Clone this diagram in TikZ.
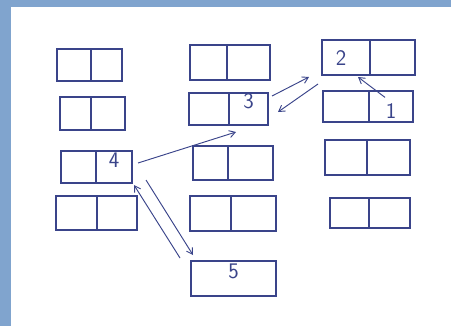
\documentclass[tikz,border=0pt]{standalone}
\usetikzlibrary{positioning,fit,arrows.meta}
\definecolor{ink}{RGB}{58,68,138}
\definecolor{frame}{RGB}{128,164,206}
\begin{document}
\begin{tikzpicture}[x=0.3mm,y=-0.3mm,
  cell/.style={draw=ink,line width=0.9pt,inner sep=0pt,outer sep=0pt,
    font=\sffamily\fontsize{19}{19}\selectfont,text=ink},
  digit/.style={text=ink,font=\sffamily\fontsize{19}{19}\selectfont},
  conn/.style={draw=ink,line width=0.8pt,-{Straight Barb[length=5pt,width=6pt]}}]
\useasboundingbox (0,0) rectangle (451,326);
\fill[frame] (0,0) rectangle (451,326);
\fill[white] (11,7) rectangle (451,326);
% column 1
\node[cell,fit={(57,49)(91,81)}] (a1l) {};
\node[cell,fit={(91,49)(122,81)}] (a1r) {};
\node[cell,fit={(60,97)(91,130)}] (a2l) {};
\node[cell,fit={(91,97)(125,130)}] (a2r) {};
\node[cell,fit={(61,151)(96,183)}] (a3l) {};
\node[cell,fit={(96,151)(132,183)}] (a3r) {4};
\node[cell,fit={(56,196)(97,230)}] (a4l) {};
\node[cell,fit={(97,196)(137,230)}] (a4r) {};
% column 2
\node[cell,fit={(190,45)(227,80)}] (b1l) {};
\node[cell,fit={(227,45)(270,80)}] (b1r) {};
\node[cell,fit={(189,93)(229,125)}] (b2l) {};
\node[cell,fit={(229,93)(268,125)}] (b2r) {3};
\node[cell,fit={(193,146)(228,180)}] (b3l) {};
\node[cell,fit={(228,146)(273,180)}] (b3r) {};
\node[cell,fit={(190,196)(231,231)}] (b4l) {};
\node[cell,fit={(231,196)(276,231)}] (b4r) {};
\node[cell,fit={(191,261)(276,296)}] (b5) {5};
% column 3
\node[cell,fit={(322,40)(370,75)}] (c1l) {};
\node[cell,fit={(370,40)(415,75)}] (c1r) {};
\node[cell,fit={(323,91)(369,122)}] (c2l) {};
\node[cell,fit={(369,91)(413,122)}] (c2r) {};
\node[cell,fit={(325,140)(367,175)}] (c3l) {};
\node[cell,fit={(367,140)(410,175)}] (c3r) {};
\node[cell,fit={(330,198)(369,228)}] (c4l) {};
\node[cell,fit={(369,198)(410,228)}] (c4r) {};
% labels placed like the handwriting
\node[digit] (n2) at (341,58) {2};
\node[digit] (n1) at (391,111) {1};
% connector ends
\coordinate (p32a) at ([shift={(4,3)}]b2r.north east);
\coordinate (p32b) at ([shift={(-13,2)}]c1l.south west);
\coordinate (p23a) at ([shift={(-4,9)}]c1l.south west);
\coordinate (p23b) at ([shift={(10,-13)}]b2r.south east);
\coordinate (p1) at ([shift={(-6,-2)}]n1.north);
\coordinate (p2) at ([shift={(-12,2)}]c1r.south west);
\coordinate (p4a) at ([shift={(6,-4)}]a3r.east);
\coordinate (p3b) at ([shift={(7,7)}]b2r.south west);
\coordinate (p45a) at ([shift={(14,-3)}]a3r.south east);
\coordinate (p45b) at ([shift={(2,-6)}]b5.north west);
\coordinate (p54a) at ([shift={(-11,-3)}]b5.north west);
\coordinate (p54b) at ([shift={(2,2)}]a3r.south east);
\draw[conn] (p32a) -- (p32b);
\draw[conn] (p23a) -- (p23b);
\draw[conn] (p1) -- (p2);
\draw[conn] (p4a) -- (p3b);
\draw[conn] (p45a) -- (p45b);
\draw[conn] (p54a) -- (p54b);
\end{tikzpicture}
\end{document}
